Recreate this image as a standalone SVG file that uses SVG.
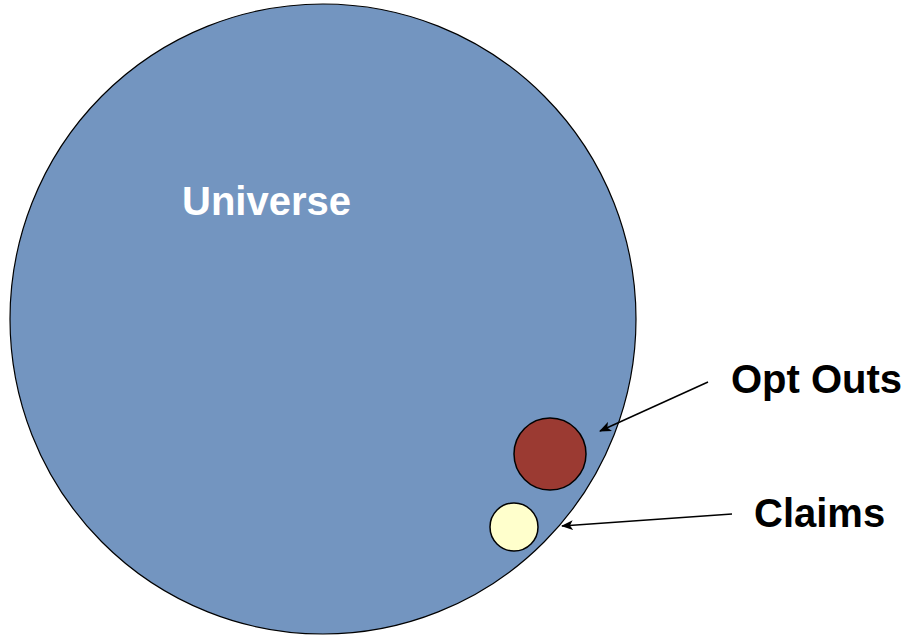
<svg xmlns="http://www.w3.org/2000/svg" width="913" height="637" viewBox="0 0 913 637">
<defs>
<style>
.lbl{font-family:"Liberation Sans",Arial,sans-serif;font-weight:bold;font-size:40px;}
.conn{stroke:#000;stroke-width:1.5;fill:none;}
</style>
<marker id="ah" markerWidth="12" markerHeight="10" refX="11" refY="5" orient="auto" markerUnits="userSpaceOnUse">
<path d="M0,0 L12,5 L0,10 L3,5 Z" fill="#000"/>
</marker>
</defs>
<rect width="913" height="637" fill="#fff"/>
<g id="universe">
<ellipse cx="323" cy="319" rx="313" ry="315" fill="#7395C0" stroke="#000" stroke-width="1.2"/>
<text class="lbl" x="182" y="215" fill="#fff">Universe</text>
</g>
<g id="optouts">
<circle cx="550" cy="454" r="36" fill="#9B3A32" stroke="#000" stroke-width="1.5"/>
<text class="lbl" x="731" y="393" fill="#000">Opt Outs</text>
</g>
<g id="claims">
<circle cx="514" cy="527" r="24" fill="#FFFFCC" stroke="#000" stroke-width="1.5"/>
<text class="lbl" x="754" y="527" fill="#000">Claims</text>
</g>
<g id="connectors">
<line class="conn" x1="708" y1="382" x2="600" y2="431" marker-end="url(#ah)"/>
<line class="conn" x1="732" y1="514" x2="562" y2="526" marker-end="url(#ah)"/>
</g>
</svg>
